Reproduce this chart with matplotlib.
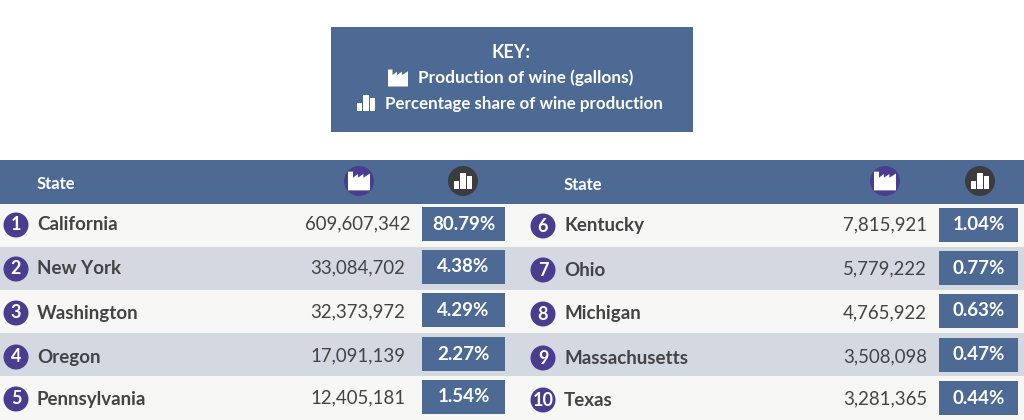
"""Top wine producing US states: key box and two-column ranking table."""

import matplotlib

matplotlib.use("Agg")
import matplotlib.pyplot as plt
from matplotlib.patches import Circle, Polygon, Rectangle

plt.rcParams["font.family"] = "Lato"

states = ["California", "New York", "Washington", "Oregon", "Pennsylvania",
          "Kentucky", "Ohio", "Michigan", "Massachusetts", "Texas"]
gallons = [609607342, 33084702, 32373972, 17091139, 12405181,
           7815921, 5779222, 4765922, 3508098, 3281365]
shares = [80.79, 4.38, 4.29, 2.27, 1.54, 1.04, 0.77, 0.63, 0.47, 0.44]
key_lines = ["Production of wine (gallons)", "Percentage share of wine production"]

BLUE = "#4c6a94"
PURPLE = "#4a3d8f"
DARK = "#3c3c3e"
TEXT = "#434345"
LIGHT_ROW = "#f7f7f5"
GRAY_ROW = "#d3d8e1"

ROW_EDGES = [204, 247, 290, 333, 376, 420]
ROW_TEXT_Y = [224, 268, 312, 356, 398]
BADGE_TOPS = [207, 250, 293, 337, 380]
BADGE_H = 34


def factory_icon(ax, cx, cy, s, color):
    # s is half the icon width, in pixels
    pts = [(-1, 1), (-1, -1), (-0.55, -1), (-0.55, -0.35), (-0.1, -0.75), (-0.1, -0.35),
           (0.4, -0.75), (0.4, -0.35), (1, -0.8), (1, 1)]
    ax.add_patch(Polygon([(cx + s * x, cy + s * 0.85 * y) for x, y in pts], color=color, lw=0, zorder=4))


def bars_icon(ax, cx, cy, s, color):
    for dx, h, in ((-0.72, 0.95), (0, 1.8), (0.72, 1.45)):
        ax.add_patch(Rectangle((cx + (dx - 0.31) * s, cy + 0.9 * s - h * s), 0.62 * s, h * s,
                               color=color, lw=0, zorder=4))


fig = plt.figure(figsize=(10.24, 4.2), dpi=100)
ax = fig.add_axes([0, 0, 1, 1])
ax.set_xlim(0, 1024)
ax.set_ylim(420, 0)
ax.axis("off")

# key box
ax.add_patch(Rectangle((331, 27), 362, 105, color=BLUE, lw=0))
ax.text(511, 52, "KEY:", color="white", fontsize=13, fontweight="bold", ha="center", va="center")
ax.text(526, 78, key_lines[0], color="white", fontsize=12.4, fontweight="bold", ha="center", va="center")
ax.text(524, 104, key_lines[1], color="white", fontsize=12.2, fontweight="bold", ha="center", va="center")
factory_icon(ax, 398, 78, 10, "white")
bars_icon(ax, 366, 103, 9, "white")

# table background
ax.add_patch(Rectangle((0, 160), 1024, 44, color=BLUE, lw=0))
for i in range(5):
    ax.add_patch(Rectangle((0, ROW_EDGES[i]), 1024, ROW_EDGES[i + 1] - ROW_EDGES[i],
                           color=GRAY_ROW if i % 2 else LIGHT_ROW, lw=0))

# column positions: circle, name, gallons, badge left, badge width, icon x
columns = [
    (16, 37, 358, 422, 83, 359, 463, 0),
    (543, 564, 885, 939, 79, 885, 980, 1),
]
for col, (circle_x, name_x, num_x, badge_x, badge_w, icon1_x, icon2_x, dy) in enumerate(columns):
    ax.text(name_x, 184 + dy, "State", color="white", fontsize=12, fontweight="bold", ha="left", va="center")
    ax.add_patch(Circle((icon1_x, 181), 15, color=PURPLE, lw=0, zorder=3))
    factory_icon(ax, icon1_x, 181, 11, "white")
    ax.add_patch(Circle((icon2_x, 181), 15, color=DARK, lw=0, zorder=3))
    bars_icon(ax, icon2_x, 181, 8.7, "white")

    for i in range(5):
        k = col * 5 + i
        y = ROW_TEXT_Y[i] + dy
        ax.add_patch(Circle((circle_x, y + 1), 12.5, color=PURPLE, lw=0, zorder=3))
        ax.text(circle_x, y + 1, str(k + 1), color="white", fontsize=13, fontweight="bold",
                ha="center", va="center", zorder=4)
        ax.text(name_x, y + 1, states[k], color=TEXT, fontsize=13.5, fontweight="bold", ha="left", va="center")
        ax.text(num_x, y, f"{gallons[k]:,}", color=TEXT, fontsize=13.4, ha="center", va="center")
        ax.add_patch(Rectangle((badge_x, BADGE_TOPS[i] + dy), badge_w, BADGE_H, color=BLUE, lw=0))
        ax.text(badge_x + badge_w / 2, BADGE_TOPS[i] + dy + BADGE_H / 2, f"{shares[k]:.2f}%", color="white",
                fontsize=13.5, fontweight="bold", ha="center", va="center")

fig.savefig("out.png", dpi=100)
